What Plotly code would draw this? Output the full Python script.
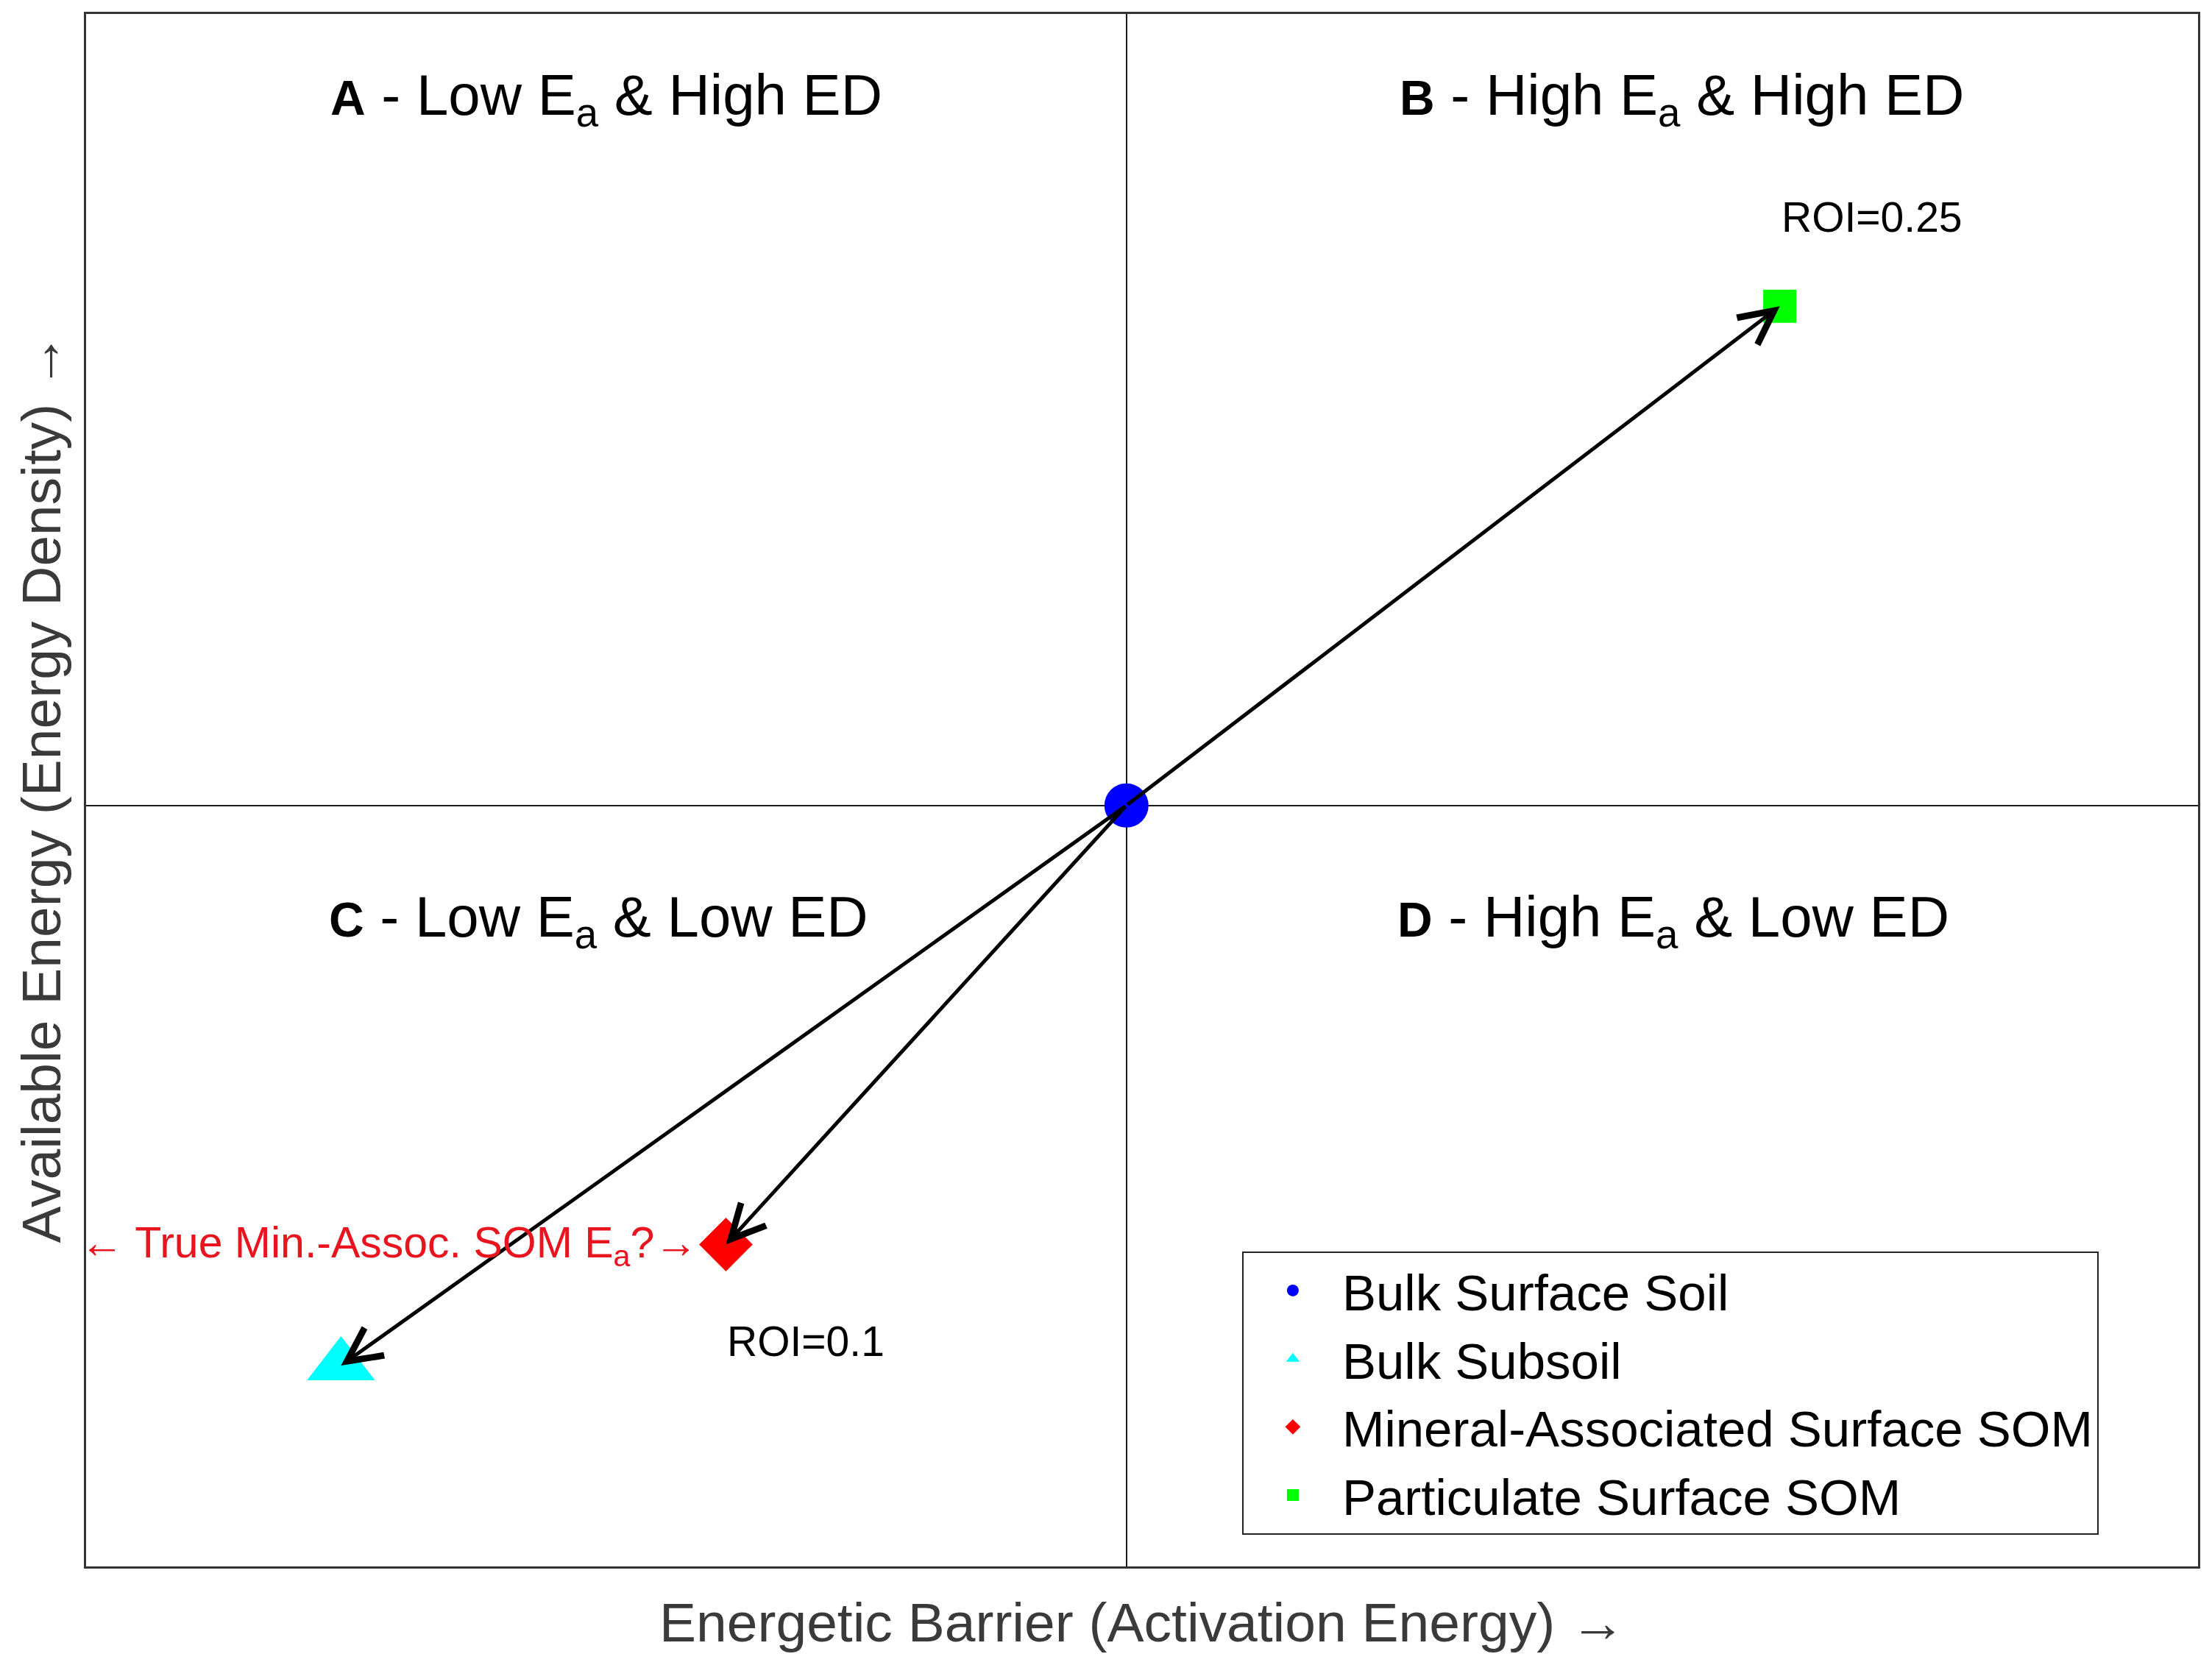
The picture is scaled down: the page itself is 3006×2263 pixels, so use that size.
import plotly.graph_objects as go

# ---- data (unitless conceptual axes) ----
categories = ["Bulk Surface Soil", "Bulk Subsoil",
              "Mineral-Associated Surface SOM", "Particulate Surface SOM"]
activation_energy = [0.0, -0.755, -0.385, 0.628]   # x: energetic barrier
energy_density = [0.0, -0.736, -0.577, 0.656]      # y: available energy
roi_labels = {2: "ROI=0.1", 3: "ROI=0.25"}
quadrant_letters = ["A", "B", "C", "D"]
quadrant_texts = ["- Low E<sub>a</sub> & High ED", "- High E<sub>a</sub> & High ED",
                  "- Low E<sub>a</sub> & Low ED", "- High E<sub>a</sub> & Low ED"]

# ---- styles ----
colors = ["#0000FF", "#00FFFF", "#FF0000", "#00FF00"]
symbols = ["circle", "triangle-up", "diamond", "square"]
sizes = [60, 80, 56, 45]
FONT = "Liberation Sans, Arial, sans-serif"

OFF = 8  # page body margin of the browser
W, H = 3006 - 2 * OFF, 2263 - 2 * OFF
PL, PR, PT, PB = 117 - OFF, 2989 - OFF, 16 - OFF, 2129 - OFF
ML, MR, MT, MB = PL, W - PR, PT, H - PB
PW, PH = PR - PL, PB - PT


def px_x(p):
    return (p - OFF - PL) / PW


def px_y(p):
    return (PB - (p - OFF)) / PH


fig = go.Figure()
for i, name in enumerate(categories):
    fig.add_trace(go.Scatter(
        x=[activation_energy[i]], y=[energy_density[i]], mode="markers",
        name=name,
        marker=dict(symbol=symbols[i], size=sizes[i], color=colors[i],
                    line=dict(width=0)),
    ))

annotations = []
# arrows from bulk surface soil to each other pool
for i in range(1, len(categories)):
    annotations.append(dict(
        x=activation_energy[i], y=energy_density[i],
        ax=activation_energy[0], ay=energy_density[0],
        xref="x", yref="y", axref="x", ayref="y",
        text="", showarrow=True, arrowhead=5, arrowsize=1.8,
        arrowwidth=5, arrowcolor="black", standoff=0,
    ))

# quadrant labels
q_pos = [(447, 132), (1901, 132), (445, 1250), (1898, 1250)]
for (qx, qy), letter, txt in zip(q_pos, quadrant_letters, quadrant_texts):
    annotations.append(dict(
        x=px_x(qx), y=px_y(qy), xref="paper", yref="paper",
        xanchor="left", yanchor="middle", showarrow=False,
        text=f"<span style='font-size:66px'><b>{letter}</b></span> {txt}",
        font=dict(family=FONT, size=78, color="black"),
    ))

# ROI labels
annotations.append(dict(
    x=activation_energy[3], y=energy_density[3], xref="x", yref="y",
    xanchor="left", yanchor="middle", yshift=121, showarrow=False,
    text=roi_labels[3], font=dict(family=FONT, size=57, color="black"),
))
annotations.append(dict(
    x=activation_energy[2], y=energy_density[2], xref="x", yref="y",
    xanchor="left", yanchor="middle", yshift=-132, showarrow=False,
    text=roi_labels[2], font=dict(family=FONT, size=57, color="black"),
))

# red uncertainty note next to the mineral-associated SOM point
annotations.append(dict(
    x=activation_energy[2], y=energy_density[2], xref="x", yref="y",
    xanchor="right", yanchor="middle", xshift=-36, yshift=-2, showarrow=False,
    text="\u2190 True Min.-Assoc. SOM E<sub>a</sub>?\u2192",
    font=dict(family=FONT, size=59, color="#E8141E"),
))

# axis titles
annotations.append(dict(
    x=0.5, y=px_y(2205), xref="paper", yref="paper",
    xanchor="center", yanchor="middle", showarrow=False,
    text="Energetic Barrier (Activation Energy) \u2192",
    font=dict(family=FONT, size=75, color="#3a3a3a"),
))
annotations.append(dict(
    x=px_x(55), y=px_y(1070), xref="paper", yref="paper",
    xanchor="center", yanchor="middle", showarrow=False, textangle=-90,
    text="Available Energy (Energy Density) \u2192",
    font=dict(family=FONT, size=75, color="#3a3a3a"),
))

axis_common = dict(
    showticklabels=False, ticks="", showgrid=False,
    zeroline=True, zerolinecolor="#1a1a1a", zerolinewidth=2,
    showline=True, mirror=True, linecolor="#333333", linewidth=3,
)

fig.update_layout(
    width=W, height=H,
    margin=dict(l=ML, r=MR, t=MT, b=MB),
    paper_bgcolor="white", plot_bgcolor="white",
    xaxis=dict(range=[-1.0, 1.03], **axis_common),
    yaxis=dict(range=[-1.0, 1.04], **axis_common),
    annotations=annotations,
    showlegend=True,
    legend=dict(
        x=px_x(1689), y=px_y(1700), xanchor="left", yanchor="top",
        bordercolor="#222222", borderwidth=2, bgcolor="white",
        font=dict(family=FONT, size=69, color="black"),
        itemwidth=124, tracegroupgap=0,
    ),
    font=dict(family=FONT),
)

fig.write_html("out.html")
